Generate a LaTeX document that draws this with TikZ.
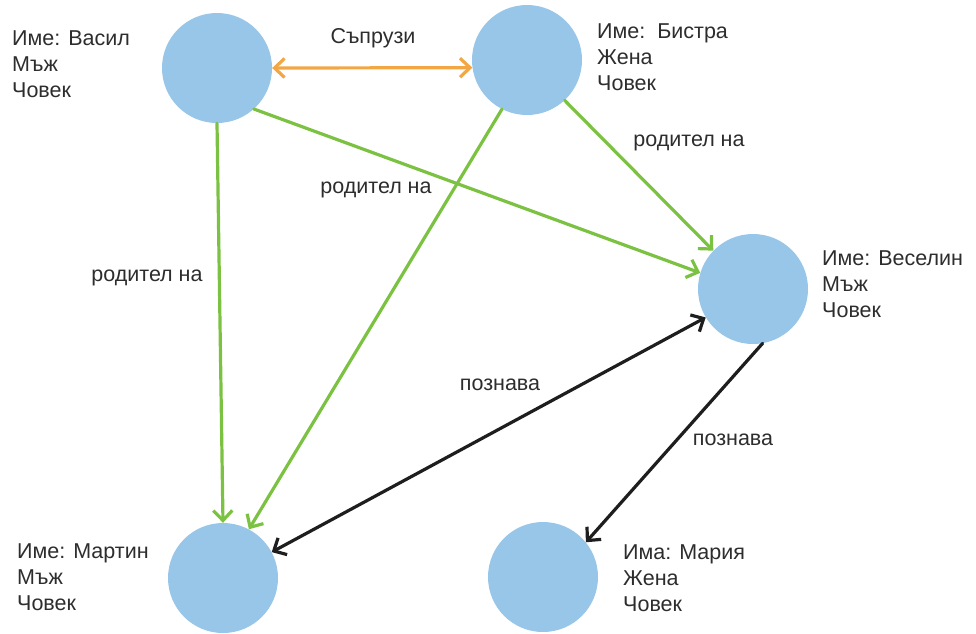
\documentclass[tikz,border=0pt]{standalone}
\usepackage{fontspec}
\setmainfont{Liberation Sans}
\usetikzlibrary{arrows.meta}
\definecolor{nodeblue}{RGB}{151,198,233}
\definecolor{relgreen}{RGB}{124,194,66}
\definecolor{relorange}{RGB}{243,166,68}
\definecolor{reldark}{RGB}{30,30,30}
\definecolor{txt}{RGB}{45,45,45}
\tikzset{
  person/.style={circle, fill=nodeblue, minimum size=110pt, inner sep=0pt},
  info/.style={anchor=west, align=left, inner sep=0pt, text=txt,
    font=\fontsize{21.5}{26}\selectfont},
  lbl/.style={inner sep=0pt, text=txt, font=\fontsize{21.5}{26}\selectfont},
  tip/.style={Straight Barb[length=10pt,width=19pt,line width=3.2pt]},
  rel/.style={line width=3.2pt, line cap=round, -{Straight Barb[length=10pt,width=19pt,line width=3.2pt]}},
  biRel/.style={line width=3.2pt, line cap=round,
    {Straight Barb[length=10pt,width=19pt,line width=3.2pt]}-{Straight Barb[length=10pt,width=19pt,line width=3.2pt]}},
}
\begin{document}
\begin{tikzpicture}[x=1pt, y=-1pt]
\useasboundingbox (0,0) rectangle (976,633);

% people
\node[person] (vasil)   at (217,68)  {};
\node[person] (bistra)  at (527,60)  {};
\node[person] (veselin) at (753,289) {};
\node[person] (martin)  at (223,578) {};
\node[person] (maria)   at (543,577) {};

% descriptions
\node[info] (tVasil)   at (12,64)  {Име: Васил\\Мъж\\Човек};
\node[info] (tBistra)  at (597,57) {Име:\ \ Бистра\\Жена\\Човек};
\node[info] (tVeselin) at (822,284) {Име: Веселин\\Мъж\\Човек};
\node[info] (tMartin)  at (17,577) {Име: Мартин\\Мъж\\Човек};
\node[info] (tMaria)   at (623,578) {Има: Мария\\Жена\\Човек};

% relations
\draw[biRel, relorange] (vasil.east) -- (bistra.188);
\draw[rel, relgreen] (vasil.south) -- (martin.north);
\draw[rel, relgreen] (vasil.-48) -- (veselin.163);
\draw[rel, relgreen] (bistra.243) -- (martin.62);
\draw[rel, relgreen] (bistra.-47) -- (veselin.136);
\draw[biRel, reldark] (martin.28) -- (veselin.211);
\draw[rel, reldark] (veselin.-80) -- (maria.39);

% relation labels
\node[lbl] (lSpouses) at (373,38)  {Съпрузи};
\node[lbl] (lParA)    at (689,143) {родител на};
\node[lbl] (lParB)    at (376,190) {родител на};
\node[lbl] (lParC)    at (147,278) {родител на};
\node[lbl] (lKnowA)   at (500,385) {познава};
\node[lbl] (lKnowB)   at (733,440) {познава};
\end{tikzpicture}
\end{document}
